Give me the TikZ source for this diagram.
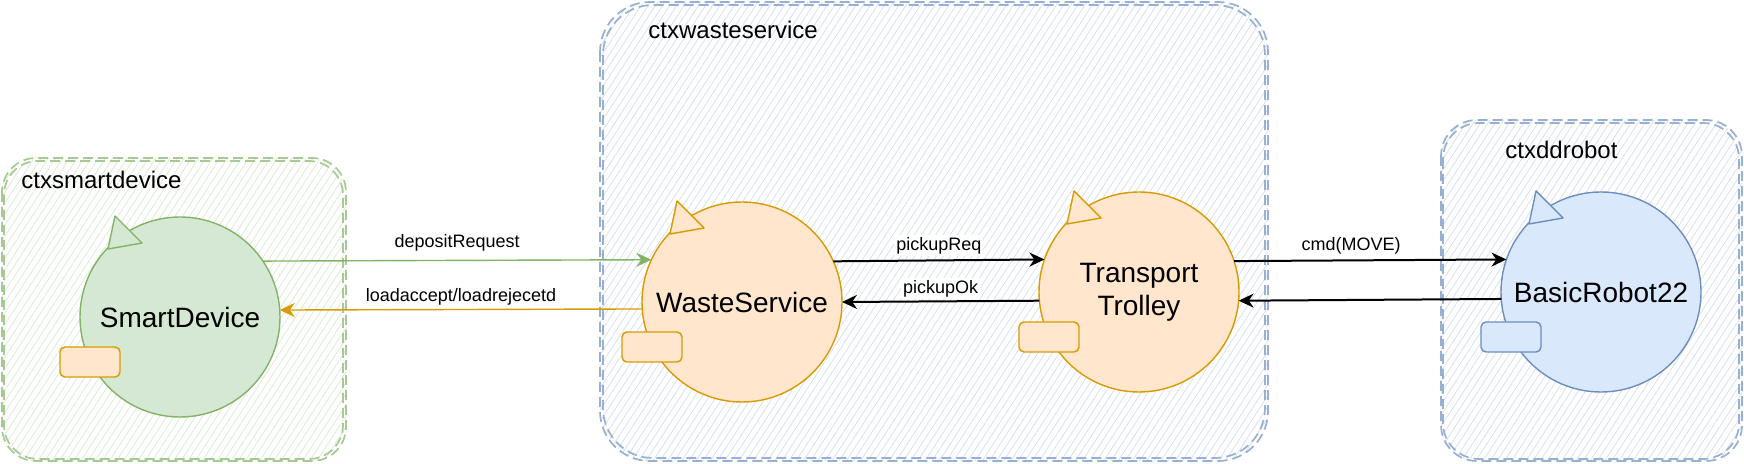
\documentclass[tikz,border=0pt]{standalone}
\usepackage{fontspec}
\setmainfont{Liberation Sans}
\usetikzlibrary{arrows.meta,patterns.meta}
\definecolor{gstroke}{HTML}{82B366}
\definecolor{gfill}{HTML}{D5E8D4}
\definecolor{ostroke}{HTML}{D79B00}
\definecolor{ofill}{HTML}{FFE6CC}
\definecolor{bstroke}{HTML}{6C8EBF}
\definecolor{bfill}{HTML}{DAE8FC}
\tikzset{
  actor/.style={circle, minimum size=100pt, inner sep=0pt, outer sep=0pt, line width=0.7pt,
    font=\fontsize{14}{16.5}\selectfont, align=center},
  ctxbox/.style={line width=0.85pt, dash pattern=on 5pt off 2.5pt},
  ctxlabel/.style={anchor=west, font=\fontsize{12}{14}\selectfont, inner sep=0pt},
  hatch/.style={pattern={Lines[angle=57,distance=3pt,line width=0.35pt]}, pattern color=#1},
  msg/.style={line width=0.7pt, -{Stealth[length=7.5pt,width=7pt]}},
  bmsg/.style={line width=1pt, -{Stealth[length=7.5pt,width=7pt]}},
  msglabel/.style={font=\fontsize{9}{11}\selectfont, inner sep=1pt, fill=white},
  actorpart/.style={line width=0.7pt, line join=round},
}
\newcommand\myactor[8]{%
  \node[actor, fill=#4, draw=#5] (#1) at (#2,#3) {#8};
  \filldraw[actorpart, shift={(#2,#3)}, fill=#4, draw=#5] (-65,-101) -- (-38,-74) -- (-72,-68) -- cycle;
  \filldraw[actorpart, shift={(#2,#3)}, fill=#6, draw=#7, rounded corners=2.5pt] (-120,30) rectangle (-60,60);
}
\begin{document}
\begin{tikzpicture}[x=0.5pt,y=-0.5pt]
\useasboundingbox (0,0) rectangle (1744,464);
% containers
\fill[hatch=gstroke!30, rounded corners=17pt] (2,158) rectangle (346,461);
\draw[ctxbox, draw=gstroke!70, rounded corners=17pt] (2,158) rectangle (346,461);
\draw[ctxbox, draw=gstroke!70, rounded corners=17pt] (4,161) rectangle (343,459);
\node[ctxlabel] (l1) at (21,180) {ctxsmartdevice};

\fill[hatch=bstroke!30, rounded corners=25pt] (600,2) rectangle (1268,461);
\draw[ctxbox, draw=bstroke!70, rounded corners=25pt] (600,2) rectangle (1268,461);
\draw[ctxbox, draw=bstroke!70, rounded corners=25pt] (603,5) rectangle (1265,458);
\node[ctxlabel] (l2) at (648,30) {ctxwasteservice};

\fill[hatch=bstroke!30, rounded corners=18pt] (1441,120) rectangle (1742,461);
\draw[ctxbox, draw=bstroke!70, rounded corners=18pt] (1441,120) rectangle (1742,461);
\draw[ctxbox, draw=bstroke!70, rounded corners=18pt] (1443,123) rectangle (1739,459);
\node[ctxlabel] (l3) at (1505,150) {ctxddrobot};

% actors
\myactor{sd}{180}{317}{gfill}{gstroke}{ofill}{ostroke}{SmartDevice}
\myactor{ws}{742}{302}{ofill}{ostroke}{ofill}{ostroke}{WasteService}
\myactor{tt}{1139}{292}{ofill}{ostroke}{ofill}{ostroke}{Transport\\Trolley}
\myactor{br}{1601}{292}{bfill}{bstroke}{bfill}{bstroke}{BasicRobot22}

% messages
\draw[msg, draw=gstroke] (sd.34.06) -- node[msglabel, yshift=9pt] (m1) {depositRequest} (ws.155.8);
\draw[msg, draw=ostroke] (ws.184.59) -- node[msglabel, yshift=6.5pt] (m2) {loadaccept/loadrejecetd} (sd.4.01);
\draw[bmsg] (ws.24.83) -- node[msglabel, yshift=7.5pt] (m3) {pickupReq} (tt.161.34);
\draw[bmsg] (tt.185.16) -- node[msglabel, yshift=6.5pt] (m4) {pickupOk} (ws.0.57);
\draw[bmsg] (tt.18.06) -- node[msglabel, pos=0.43, yshift=7.5pt] (m5) {cmd(MOVE)} (br.161.94);
\draw[bmsg] (br.184.01) -- (tt.355.99);
\end{tikzpicture}
\end{document}
